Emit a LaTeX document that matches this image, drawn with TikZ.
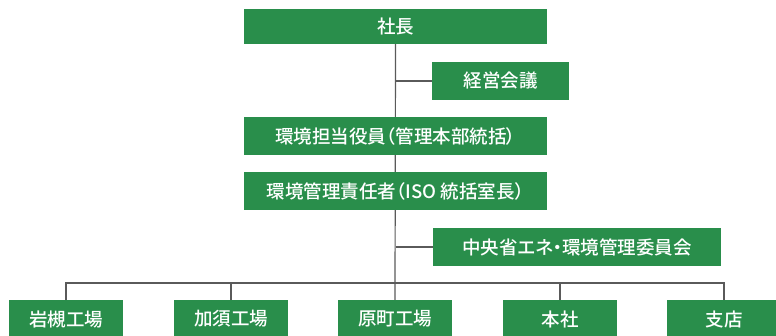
\documentclass[tikz,border=0pt]{standalone}
\usepackage{fontspec}
\newfontfamily\jp[RawFeature=+palt]{Noto Sans CJK JP Medium}
\usetikzlibrary{backgrounds}
\definecolor{boxgreen}{RGB}{41,142,75}
\definecolor{linegray}{RGB}{90,90,90}
\tikzset{
  orgbox/.style={fill=boxgreen, text=white, font=\jp\fontsize{18.5}{20}\selectfont, inner sep=0pt, anchor=center},
  wide/.style={orgbox, minimum width=303pt, minimum height=37pt},
  side/.style={orgbox, minimum height=38pt},
  unit/.style={orgbox, minimum width=114pt, minimum height=38pt},
  conn/.style={draw=linegray, line width=1.2pt},
}
\begin{document}
\begin{tikzpicture}[x=1pt,y=-1pt]
\useasboundingbox (0,0) rectangle (776,335);
\clip (0,0) rectangle (776,335);
\node[wide, minimum height=35pt] (pres) at (395.5,26.5) {社長};
\node[side, minimum width=137pt] (mgmt) at (500.5,81) {経営会議};
\node[wide, minimum height=38pt] (exec) at (395.5,136) {環境担当役員（管理本部統括）};
\node[wide, minimum height=38pt] (emr) at (395.5,191) {環境管理責任者（ISO 統括室長）};
\node[side, minimum width=288pt] (comm) at (577,247) {中央省エネ・環境管理委員会};
\node[unit] (iw) at (66,319) {岩槻工場};
\node[unit] (ks) at (231,319) {加須工場};
\node[unit] (hm) at (395,319) {原町工場};
\node[unit] (hq) at (560,319) {本社};
\node[unit] (br) at (724,319) {支店};
\coordinate (bus) at (395,283);
\begin{scope}[on background layer]
\draw[conn] (pres.south) -- (hm.north);
\draw[conn] (pres.south |- mgmt.west) -- (mgmt.west);
\draw[conn] (pres.south |- comm.west) -- (comm.west);
\draw[conn] (iw.north) -- (iw.north |- bus) -- (br.north |- bus) -- (br.north);
\draw[conn] (ks.north) -- (ks.north |- bus);
\draw[conn] (hq.north) -- (hq.north |- bus);
\end{scope}
\end{tikzpicture}
\end{document}
